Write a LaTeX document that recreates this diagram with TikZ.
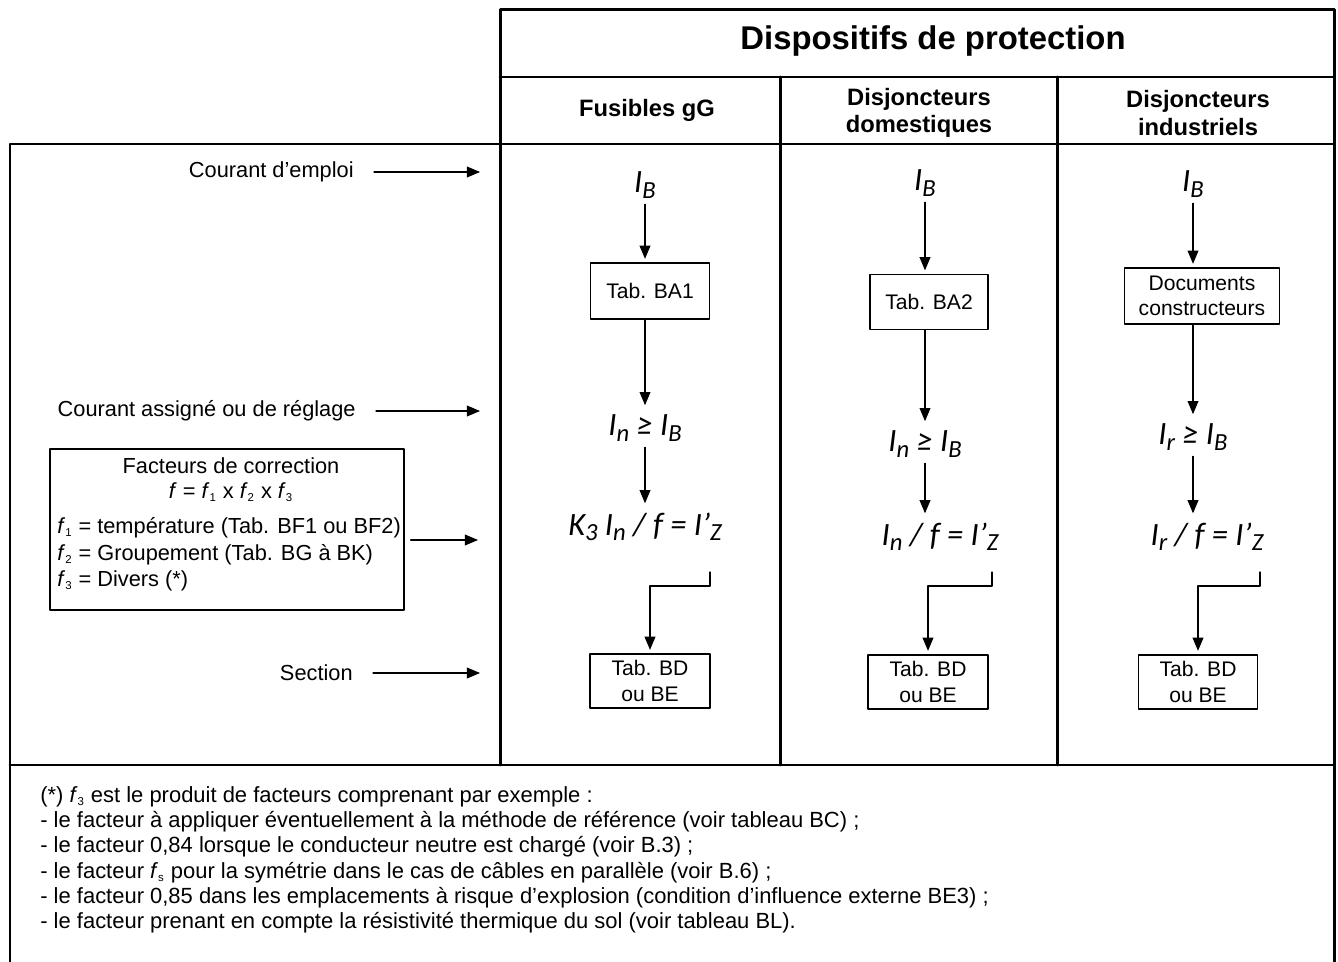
\documentclass[tikz,border=0pt]{standalone}
\usepackage{fontspec}
\setmainfont{Liberation Sans}
\newfontfamily\calib{Carlito}
\usepackage{tikz}
\usetikzlibrary{arrows}

\newcommand{\lo}[1]{\raisebox{-0.35ex}{\fontsize{14}{14}\selectfont #1}}
\newcommand{\fm}{\fontsize{18.5}{22}\selectfont\calib\itshape}
\newcommand{\ix}[1]{\textsubscript{\fontsize{6.5}{7}\selectfont #1}}

\tikzset{
  frm/.style={line width=1.7pt},
  tabbox/.style={draw,line width=0.8pt,align=center,inner sep=0pt,font=\fontsize{12}{14.5}\selectfont},
  lbl/.style={inner sep=0pt,font=\fontsize{12.4}{15}\selectfont},
  hdr/.style={align=center,inner sep=0pt,font=\fontsize{13.5}{15.5}\selectfont\bfseries},
  formule/.style={font=\fm},
  arr/.style={->,line width=0.7pt,shorten >=2pt},
  lblarr/.style={->,line width=0.7pt,shorten <=0.4cm}
}

\begin{document}
\begin{tikzpicture}[line cap=round,line join=round,>=triangle 45,x=0.02cm,y=-0.02cm]
\useasboundingbox (0,0) rectangle (1338,962);
% cadre
\draw[frm] (500,765) -- (500,10) -- (1334,10) -- (1334,962);
\draw[frm] (500,77) -- (1334,77);
\draw[frm] (10,962) -- (10,144) -- (1334,144);
\draw[frm] (10,765) -- (1334,765);
\draw[frm] (780,77) -- (780,765);
\draw[frm] (1057,77) -- (1057,765);
% en-tetes
\node[hdr,font=\fontsize{18.7}{22}\selectfont\bfseries] (titre) at (933,41) {Dispositifs de protection};
\node[hdr] (fus) at (647,110) {Fusibles gG};
\node[hdr] (dom) at (919,113) {Disjoncteurs\\domestiques};
\node[hdr] (ind) at (1198,113) {Disjoncteurs\\industriels};

% colonne de gauche
\node[lbl,anchor=east] (emploi) at (354,172) {Courant d’emploi};
\coordinate (a1) at (480,172);
\draw[lblarr] (emploi.east) -- (a1);
\node[lbl,anchor=east] (assigne) at (356,411) {Courant assigné ou de réglage};
\coordinate (a2) at (480,411);
\draw[lblarr] (assigne.east) -- (a2);
\node[draw,line width=0.8pt,minimum width=7.08cm,minimum height=3.22cm] (fcor) at (227,529.5) {};
\node[lbl] (fcor1) at (231,466) {Facteurs de correction};
\node[lbl] (fcor2) at (231,492) {\textit{f} = \textit{f}\ix{1} x \textit{f}\ix{2} x \textit{f}\ix{3}};
\node[lbl,anchor=west] (f1) at (57,528) {\textit{f}\ix{1} = température (Tab. BF1 ou BF2)};
\node[lbl,anchor=west] (f2) at (57,555) {\textit{f}\ix{2} = Groupement (Tab. BG à BK)};
\node[lbl,anchor=west] (f3) at (57,581) {\textit{f}\ix{3} = Divers (*)};
\coordinate (a3) at (478,540);
\draw[lblarr,shorten <=0.12cm] (a3 -| fcor.east) -- (a3);
\node[lbl,anchor=east] (section) at (353,673) {Section};
\coordinate (a4) at (480,673);
\draw[lblarr] (section.east) -- (a4);

% fusibles gG
\node[formule] (ib1) at (645,185) {I\lo{B}};
\node[tabbox,minimum width=2.38cm,minimum height=1.12cm] (tba1) at (650,291) {Tab. BA1};
\node[formule] (in1) at (645,428) {I\lo{n} ≥ I\lo{B}};
\node[formule] (fz1) at (645,527) {K\lo{3} I\lo{n} / f = I’\lo{Z}};
\node[tabbox,minimum width=2.4cm,minimum height=1.08cm] (tbd1) at (650,681) {Tab. BD\\ou BE};
\draw[arr] (ib1.south) -- (ib1.south |- tba1.north);
\draw[arr] (tba1.south -| ib1) -- (in1.north);
\draw[arr] (in1.south) -- (in1.south |- fz1.north);
\coordinate (k1) at (710,572);
\draw[arr] (k1) -- (710,586) -| (tbd1.north);

% disjoncteurs domestiques
\node[formule] (ib2) at (925,183) {I\lo{B}};
\node[tabbox,minimum width=2.36cm,minimum height=1.1cm] (tba2) at (929,302) {Tab. BA2};
\node[formule] (in2) at (925,444) {I\lo{n} ≥ I\lo{B}};
\node[formule] (fz2) at (940,537) {I\lo{n} / f = I’\lo{Z}};
\node[tabbox,minimum width=2.4cm,minimum height=1.08cm] (tbd2) at (928,682) {Tab. BD\\ou BE};
\draw[arr] (ib2.south) -- (ib2.south |- tba2.north);
\draw[arr] (tba2.south -| ib2) -- (in2.north);
\draw[arr] (in2.south) -- (in2.south |- fz2.north);
\coordinate (k2) at (992,572);
\draw[arr] (k2) -- (992,586) -| (tbd2.north);

% disjoncteurs industriels
\node[formule] (ib3) at (1193,184) {I\lo{B}};
\node[tabbox,minimum width=3.1cm,minimum height=1.12cm] (docs) at (1202,296) {Documents\\constructeurs};
\node[formule] (ir3) at (1193,437) {I\lo{r} ≥ I\lo{B}};
\node[formule] (fz3) at (1207,537) {I\lo{r} / f = I’\lo{Z}};
\node[tabbox,minimum width=2.38cm,minimum height=1.08cm] (tbd3) at (1198,682) {Tab. BD\\ou BE};
\draw[arr] (ib3.south) -- (ib3.south |- docs.north);
\draw[arr] (docs.south -| ib3) -- (ir3.north);
\draw[arr] (ir3.south) -- (ir3.south |- fz3.north);
\coordinate (k3) at (1260,572);
\draw[arr] (k3) -- (1260,586) -| (tbd3.north);

% note
\node[anchor=north west,align=left,inner sep=0pt,font=\fontsize{12.5}{14.4}\selectfont] (note) at (40,786) {(*) \textit{f}\ix{3} est le produit de facteurs comprenant par exemple :\\
- le facteur à appliquer éventuellement à la méthode de référence (voir tableau BC) ;\\
- le facteur 0,84 lorsque le conducteur neutre est chargé (voir B.3) ;\\
- le facteur \textit{f}\ix{s} pour la symétrie dans le cas de câbles en parallèle (voir B.6) ;\\
- le facteur 0,85 dans les emplacements à risque d’explosion (condition d’influence externe BE3) ;\\
- le facteur prenant en compte la résistivité thermique du sol (voir tableau BL).};
\end{tikzpicture}
\end{document}
